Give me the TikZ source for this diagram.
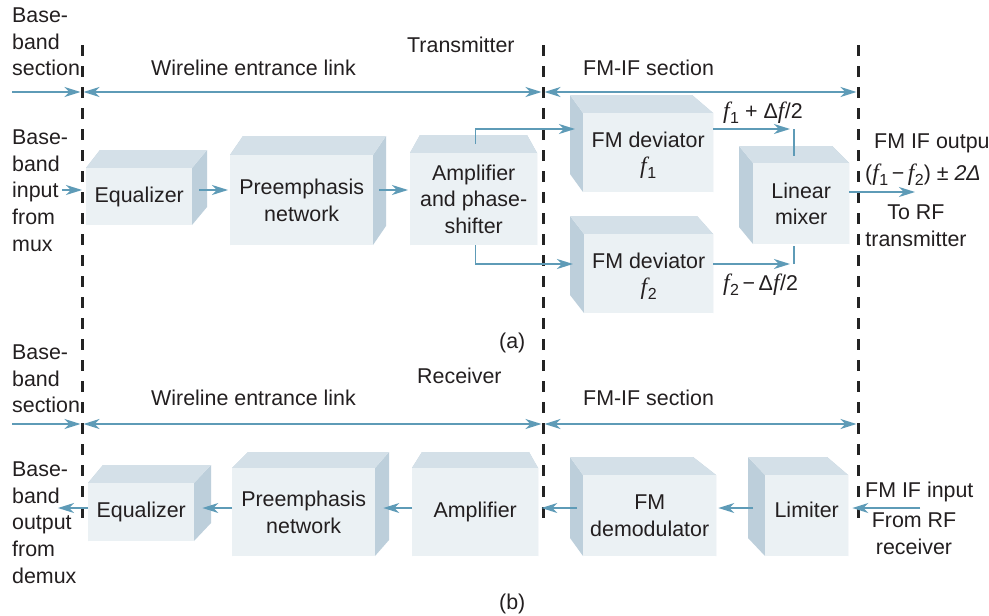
\documentclass[tikz,border=0pt]{standalone}
\usepackage{fontspec}
\setmainfont{Liberation Sans}
\newfontfamily\tnr{Liberation Serif}
\usetikzlibrary{arrows.meta,calc}
\definecolor{arrc}{RGB}{94,155,183}
\definecolor{frontc}{RGB}{235,241,244}
\definecolor{topc}{RGB}{212,224,232}
\definecolor{sidec}{RGB}{189,207,219}
\definecolor{txt}{RGB}{35,31,32}
\definecolor{dashc}{RGB}{35,35,35}
\newcommand{\itf}{{\fontsize{23.5}{26.6}\tnr\itshape f\kern0.5pt}}
\newcommand{\sbs}[1]{\raisebox{-0.24em}{\fontsize{16}{16}\selectfont #1}}
\newcommand{\nodepth}[1]{\raisebox{0pt}[\height][0pt]{#1}}
\newcommand{\cube}[9]{%
 \fill[sidec] (#2,#3) -- ({#2+#6},{#3-#8}) -- ({#2+#6},{#5-#8}) -- (#2,#5) -- cycle;
 \fill[sidec] (#4,#3) -- ({#4+#7},{#3-#8}) -- ({#4+#7},{#5-#8}) -- (#4,#5) -- cycle;
 \fill[topc] (#2,#3) -- ({#2+#6},{#3-#8}) -- ({#4+#7},{#3-#8}) -- (#4,#3) -- cycle;
 \node[front, minimum width={#4-#2}, minimum height={#5-#3}] (#1) at (#2,#3) {#9};
}
\begin{document}
\begin{tikzpicture}[x=1pt,y=-1pt, font=\fontsize{21.4}{26.6}\selectfont, text=txt,
 front/.style={fill=frontc, draw=none, inner sep=0pt, align=center, anchor=north west},
 arr/.style={draw=arrc, line width=1.3pt, -{Stealth[length=16pt,width=10pt,inset=5pt]}},
 darr/.style={draw=arrc, line width=1.3pt, {Stealth[length=16pt,width=10pt,inset=5pt]}-{Stealth[length=16pt,width=10pt,inset=5pt]}},
 ln/.style={draw=arrc, line width=1.3pt},
 sep/.style={draw=dashc, line width=3pt, dash pattern=on 11pt off 10pt},
 lbl/.style={inner sep=0pt, align=left},
 clbl/.style={inner sep=0pt, align=center},
]
\useasboundingbox[fill=white] (0,0) rectangle (989,616);

% ---------- boxes (a)
\cube{eqA}{86}{168}{192}{225}{14}{15}{18}{Equalizer}
\cube{preA}{230}{155}{373}{245}{13}{13}{19}{Preemphasis\\network}
\cube{ampA}{410}{153}{537}{245}{10}{-10}{18}{Amplifier\\and phase-\\shifter}
\cube{fmdA}{583}{113}{713}{192}{-13}{-21}{18}{FM deviator\\\nodepth{\itf\sbs{1}}}
\cube{fmdB}{584}{234}{713}{313}{-14}{-16}{18}{FM deviator\\\nodepth{\itf\sbs{2}}}
\cube{mix}{753}{163}{849}{244}{-14}{-17}{17}{Linear\\mixer}
% ---------- boxes (b)
\cube{eqB}{88}{483}{194}{541}{15}{17}{18}{Equalizer}
\cube{preB}{232}{468}{375}{556}{16}{14}{16}{Preemphasis\\network}
\cube{ampB}{412}{468}{538}{556}{10}{-9}{16}{Amplifier}
\cube{demod}{583}{475}{716}{556}{-13}{-23}{18}{FM\\demodulator}
\cube{lim}{765}{475}{848}{556}{-17}{-21}{18}{\raisebox{0pt}[\height][12pt]{Limiter}}

% ---------- coordinates
\coordinate (hA) at (0,92);
\coordinate (hB) at (0,424);
\coordinate (rA) at (0,190);
\coordinate (r1) at (0,129);
\coordinate (r2) at (0,264);
\coordinate (rB) at (0,508);
\coordinate (dLt) at (82,45);
\coordinate (dLb) at (82,523);
\coordinate (dMt) at (543,45);
\coordinate (dMb) at (543,523);
\coordinate (dRt) at (858,45);
\coordinate (dRb) at (858,523);
\coordinate (sA) at (12,92);
\coordinate (sB) at (12,424);
\coordinate (iA) at (62,190);
\coordinate (j1) at (790,129);
\coordinate (j2) at (790,264);
\coordinate (k1) at (794,129);
\coordinate (k2) at (794,264);
\coordinate (oA) at (915,192);
\coordinate (oB) at (58,508);
\coordinate (iB) at (920,508);

% ---------- dashed section lines
\draw[sep] (dLt) -- (dLb);
\draw[sep] (dMt) -- (dMb);
\draw[sep] (dRt) -- (dRb);

% ---------- section arrows
\draw[arr] (sA) -- ([xshift=-1.5]dLt |- hA);
\draw[darr] ([xshift=1.5]dLt |- hA) -- ([xshift=-1.5]dMt |- hA);
\draw[darr] ([xshift=1.5]dMt |- hA) -- ([xshift=-1.5]dRt |- hA);
\draw[arr] (sB) -- ([xshift=-1.5]dLt |- hB);
\draw[darr] ([xshift=1.5]dLt |- hB) -- ([xshift=-1.5]dMt |- hB);
\draw[darr] ([xshift=1.5]dMt |- hB) -- ([xshift=-1.5]dRt |- hB);

% ---------- signal arrows (a)
\draw[arr] (iA) -- ([xshift=-4]eqA.west |- rA);
\draw[arr] ([xshift=7]eqA.east |- rA) -- ([xshift=-2]preA.west |- rA);
\draw[arr] ([xshift=6]preA.east |- rA) -- ([xshift=-2]ampA.west |- rA);
\draw[arr] ([xshift=1.5,yshift=9]ampA.north) |- ([xshift=-8]fmdA.west |- r1);
\draw[arr] ([xshift=1.5]ampA.south) |- ([xshift=-11]fmdB.west |- r2);
\draw[arr] (fmdA.east |- r1) -- (j1);
\draw[arr] (fmdB.east |- r2) -- (j2);
\draw[ln] (k1) -- (k1 |- 0,156);
\draw[ln] (k2) -- (k2 |- 0,246);
\draw[arr] (mix.east |- oA) -- (oA);

% ---------- signal arrows (b)
\draw[arr] (eqB.west |- rB) -- (oB);
\draw[arr] (preB.west |- rB) -- ([xshift=8]eqB.east |- rB);
\draw[arr] (ampB.west |- rB) -- ([xshift=8]preB.east |- rB);
\draw[arr] ([xshift=-6]demod.west |- rB) -- ([xshift=3]ampB.east |- rB);
\draw[arr] ([xshift=-12]lim.west |- rB) -- ([xshift=2]demod.east |- rB);
\draw[arr] (iB) -- ([xshift=4]lim.east |- rB);

% ---------- labels (a)
\node[lbl, anchor=north west] (lbA) at (12,7.7) {Base-\\band\\section};
\node[lbl, anchor=north west] (lin) at (12,129.7) {Base-\\band\\input\\from\\mux};
\node[lbl, anchor=base west] (wlA) at (151,75) {Wireline entrance link};
\node[lbl, anchor=base west] (tx) at (407,52) {Transmitter};
\node[lbl, anchor=base west] (fmA) at (583,75) {FM-IF section};
\node[lbl, anchor=base west] (f1l) at (723,118) {\itf\sbs{1} + Δ\itf/2};
\node[lbl, anchor=base west] (f2l) at (723,290) {\itf\sbs{2}\,−\,Δ\itf/2};
\node[lbl, anchor=base west] (outl) at (874,148) {FM IF outpu};
\node[lbl, anchor=base west] (outf) at (865,180) {(\itf\sbs{1}\,−\,\itf\sbs{2}) ± \textit{2Δ}};
\node[clbl, anchor=north] (torf) at (916,204.7) {To RF\\transmitter};
\node[lbl, anchor=base west] (la) at (499,348) {(a)};

% ---------- labels (b)
\node[lbl, anchor=north west] (lbB) at (12,344.7) {Base-\\band\\section};
\node[lbl, anchor=north west] (lout) at (12,461.7) {Base-\\band\\output\\from\\demux};
\node[lbl, anchor=base west] (wlB) at (151,405) {Wireline entrance link};
\node[lbl, anchor=base west] (rx) at (417,383) {Receiver};
\node[lbl, anchor=base west] (fmB) at (583,405) {FM-IF section};
\node[lbl, anchor=base west] (fmin) at (865,497) {FM IF input};
\node[clbl, anchor=north] (frrf) at (914,512.7) {From RF\\receiver};
\node[lbl, anchor=base west] (lb) at (499,609) {(b)};
\end{tikzpicture}
\end{document}
